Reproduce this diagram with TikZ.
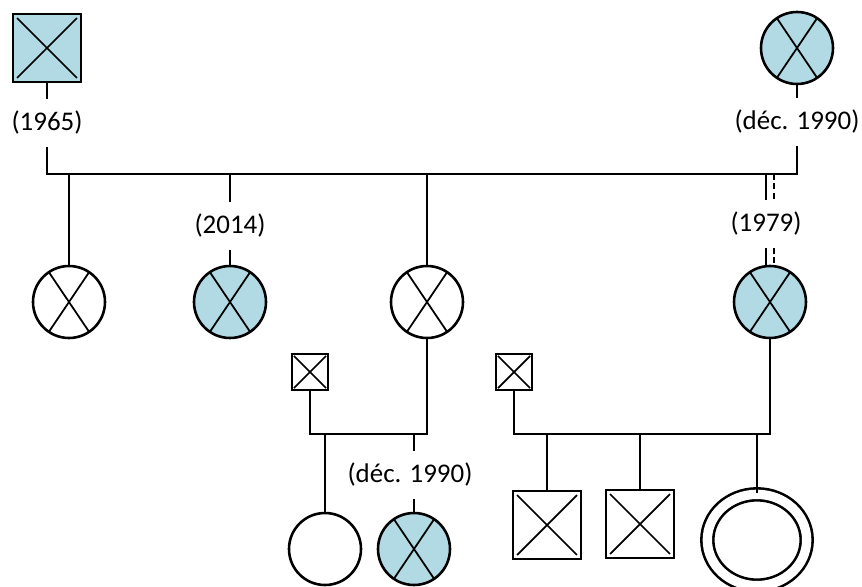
\documentclass[tikz,border=0pt]{standalone}
\usepackage{fontspec}
\setmainfont{Carlito}
\usetikzlibrary{shapes.geometric}
\definecolor{affblue}{RGB}{178,218,228}

\begin{document}
\begin{tikzpicture}[
    x=0.03cm, y=-0.03cm,
    line width=1.6pt,
    font=\fontsize{23}{28}\selectfont,
    sym/.style={draw, line width=2.2pt, inner sep=0pt},
    male/.style={sym, rectangle, minimum size=#1},
    female/.style={sym, circle, minimum size=2.16cm},
    affected/.style={fill=affblue},
    xbox/.style={path picture={\draw[line width=1.5pt] (path picture bounding box.center)
        +(45:#1) -- +(225:#1) +(135:#1) -- +(315:#1);}},
    xcirc/.style={path picture={\draw[line width=1.5pt] (path picture bounding box.center)
        +(56:2cm) -- +(236:2cm) +(124:2cm) -- +(304:2cm);}},
    year/.style={inner sep=0pt, minimum height=1.38cm},
    broken/.style={line width=1.3pt, dash pattern=on 5pt off 3pt},
]
\useasboundingbox (0,0) rectangle (862,587);

% First generation
\node[male=2.04cm, affected, xbox=1.27cm] (gf) at (47,48) {};
\node[female, affected, xcirc] (gm) at (797,48) {};
\node[year] (y1965) at (47,123) {(1965)};
\node[year] (ygm) at (797,122) {(déc. 1990)};
\coordinate (bar1) at (0,174);

\draw (gf) -- (y1965);
\draw (gm) -- (ygm);
\draw (y1965) -- (y1965 |- bar1) -- (ygm |- bar1) -- (ygm);

% Second generation
\node[female, xcirc] (c1) at (69,302) {};
\node[female, affected, xcirc] (c2) at (230,302) {};
\node[female, xcirc] (c3) at (427,302) {};
\node[female, affected, xcirc] (c4) at (770,302) {};
\node[year] (y2014) at (230,226) {(2014)};
\node[year] (y1979) at (766,224) {(1979)};

\draw (c1 |- bar1) -- (c1);
\draw (c2 |- bar1) -- (y2014);
\draw (y2014) -- (c2);
\draw (c3 |- bar1) -- (c3);

% broken link
\coordinate (d1) at ([xshift=0.24cm]y1979.north);
\coordinate (d2) at ([xshift=0.24cm]y1979.south);
\draw (y1979 |- bar1) -- (y1979);
\draw (y1979) -- (y1979 |- c4.north);
\draw[broken] (d1 |- bar1) -- (d1);
\draw[broken] (d2) -- ([yshift=0.06cm]d2 |- c4.north);

% Partners
\node[male=1.08cm, xbox=0.68cm] (s1) at (310,372) {};
\node[male=1.08cm, xbox=0.68cm] (s2) at (514,372) {};
\coordinate (bar2) at (0,434);

\draw (s1) -- (s1 |- bar2) -- (c3 |- bar2) -- (c3);
\draw (s2) -- (s2 |- bar2) -- (c4 |- bar2) -- (c4);

% Third generation
\node[female] (g1) at (325,549) {};
\node[female, affected, xcirc] (g2) at (414,549) {};
\node[year] (yg2) at (410,475) {(déc. 1990)};
\node[male=2.04cm, xbox=1.27cm] (e1) at (547,525) {};
\node[male=2.04cm, xbox=1.27cm] (e2) at (640,524) {};
\node[sym, ellipse, double, double distance=0.28cm,
      minimum width=2.98cm, minimum height=2.74cm] (e3) at (757,540) {};

\draw (g1 |- bar2) -- (g1);
\draw (g2 |- bar2) -- (g2 |- yg2.north);
\draw (g2 |- yg2.south) -- (g2);
\draw (e1 |- bar2) -- (e1);
\draw (e2 |- bar2) -- (e2);
\draw (e3 |- bar2) -- (e3);

\end{tikzpicture}
\end{document}
